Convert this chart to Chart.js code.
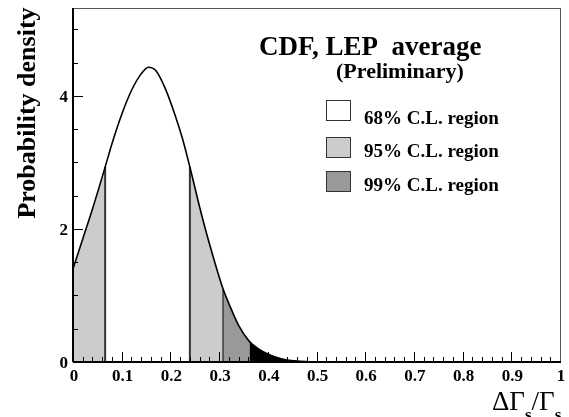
<!DOCTYPE html>
<html>
<head>
<meta charset="utf-8">
<script src="https://cdn.jsdelivr.net/npm/chart.js@4"></script>
<style>
  body { margin: 0; background: #fff; }
  #wrap { width: 569px; height: 417px; }
</style>
</head>
<body>
<div id="wrap"><canvas id="pdfChart" width="569" height="417"></canvas></div>
<script>
// curve (x = dGamma_s/Gamma_s, y = probability density)
const xValues = [0, 0.02, 0.04, 0.066, 0.08, 0.10, 0.12, 0.14, 0.155, 0.17, 0.19, 0.21, 0.225, 0.24,
  0.26, 0.28, 0.308, 0.32, 0.34, 0.362, 0.38, 0.40, 0.42, 0.44, 0.46, 0.48, 0.50, 0.60, 0.80, 1.0];
const density = [1.40, 1.85, 2.30, 2.93, 3.28, 3.72, 4.08, 4.33, 4.43, 4.38, 4.10, 3.70, 3.35, 2.93,
  2.33, 1.78, 1.10, 0.88, 0.55, 0.31, 0.20, 0.12, 0.065, 0.03, 0.013, 0.005, 0, 0, 0, 0];

// confidence regions: [from, to]
const regionFrom = [0, 0.066, 0.240, 0.308, 0.362];
const regionTo = [0.066, 0.240, 0.308, 0.362, 1.0];
const regionFill = ["#cccccc", "#ffffff", "#cccccc", "#999999", "#000000"];

const xTickLabels = ["0", "0.1", "0.2", "0.3", "0.4", "0.5", "0.6", "0.7", "0.8", "0.9", "1"];
const yTickLabels = ["0", "2", "4"];
const legendLabels = ["68% C.L. region", "95% C.L. region", "99% C.L. region"];
const legendFill = ["#ffffff", "#cccccc", "#999999"];

const serif = "'Liberation Serif', 'DejaVu Serif', serif";

function curvePoints(a, b) {
  const pts = [];
  xValues.forEach(function (x, i) {
    if (x >= a - 1e-9 && x <= b + 1e-9) pts.push({ x: x, y: density[i] });
  });
  return pts;
}

function densityAt(x) {
  const i = xValues.indexOf(x);
  return i >= 0 ? density[i] : 0;
}

const datasets = [];
// outline
datasets.push({
  data: curvePoints(0, 1),
  borderColor: "#000",
  borderWidth: 1.6,
  fill: false,
  pointRadius: 0,
  cubicInterpolationMode: "monotone",
});
// edges of the regions
[0.066, 0.240].forEach(function (x) {
  datasets.push({
    data: [{ x: x, y: 0 }, { x: x, y: densityAt(x) }],
    borderColor: "#333",
    borderWidth: 2,
    pointRadius: 0,
    fill: false,
  });
});
[0.308].forEach(function (x) {
  datasets.push({
    data: [{ x: x, y: 0 }, { x: x, y: densityAt(x) }],
    borderColor: "#000",
    borderWidth: 1,
    pointRadius: 0,
    fill: false,
  });
});
// filled regions
regionFrom.forEach(function (a, i) {
  datasets.push({
    data: curvePoints(a, regionTo[i]),
    borderWidth: 0,
    borderColor: "rgba(0,0,0,0)",
    backgroundColor: regionFill[i],
    fill: "origin",
    pointRadius: 0,
    cubicInterpolationMode: "monotone",
  });
});

const framePlugin = {
  id: "frame",
  afterDatasetsDraw(chart) {
    const ctx = chart.ctx;
    const xs = chart.scales.x, ys = chart.scales.y;
    const a = chart.chartArea;
    ctx.save();
    ctx.strokeStyle = "#000";
    ctx.lineWidth = 1;
    // inward ticks
    ctx.beginPath();
    for (let k = 0; k <= 50; k++) {
      const v = k * 0.02;
      const px = Math.round(xs.getPixelForValue(v)) + 0.5;
      const len = k % 5 === 0 ? 10 : 5;
      ctx.moveTo(px, a.bottom);
      ctx.lineTo(px, a.bottom - len);
    }
    for (let k = 0; k <= 10; k++) {
      const v = k * 0.5;
      const py = Math.round(ys.getPixelForValue(v)) + 0.5;
      const len = k % 4 === 0 ? 10 : 5;
      ctx.moveTo(a.left, py);
      ctx.lineTo(a.left + len, py);
    }
    ctx.stroke();
    // frame
    ctx.strokeStyle = "#555";
    ctx.strokeRect(a.left + 0.5, a.top + 0.5, a.right - a.left, a.bottom - a.top);
    ctx.strokeStyle = "#000";
    ctx.lineWidth = 2;
    ctx.beginPath();
    ctx.moveTo(a.left, a.bottom);
    ctx.lineTo(a.right + 1, a.bottom);
    ctx.moveTo(a.left, a.bottom);
    ctx.lineTo(a.left, a.top);
    ctx.stroke();

    // tick labels
    ctx.fillStyle = "#000";
    ctx.font = "bold 17px " + serif;
    ctx.textAlign = "center";
    ctx.textBaseline = "alphabetic";
    xTickLabels.forEach(function (t) {
      ctx.fillText(t, xs.getPixelForValue(parseFloat(t)) + 1, a.bottom + 19);
    });
    ctx.textAlign = "right";
    yTickLabels.forEach(function (t) {
      ctx.fillText(t, a.left - 5, ys.getPixelForValue(parseFloat(t)) + 6);
    });

    // y title
    ctx.save();
    ctx.translate(35, 113);
    ctx.rotate(-Math.PI / 2);
    ctx.textAlign = "center";
    ctx.font = "bold 26px " + serif;
    ctx.fillText("Probability density", 0, 0);
    ctx.restore();

    // x title: ΔΓs/Γs
    ctx.textAlign = "left";
    let x = 492;
    const base = 410;
    const parts = [["ΔΓ", false], ["s", true], ["/Γ", false], ["s", true]];
    parts.forEach(function (p) {
      ctx.font = p[1] ? "bold 17px " + serif : "27px " + serif;
      ctx.fillText(p[0], x, p[1] ? base + 10 : base);
      x += ctx.measureText(p[0]).width;
    });

    // title
    ctx.font = "bold 27px " + serif;
    ctx.fillText("CDF, LEP  average", 259, 55);
    ctx.font = "bold 22px " + serif;
    ctx.fillText("(Preliminary)", 336, 78);

    // legend
    const boxY = [100, 137, 171];
    const textBase = [124, 157, 191];
    legendLabels.forEach(function (lab, i) {
      ctx.fillStyle = legendFill[i];
      ctx.fillRect(326, boxY[i], 24, 20);
      ctx.strokeStyle = "#333";
      ctx.lineWidth = 1;
      ctx.strokeRect(326.5, boxY[i] + 0.5, 24, 20);
      ctx.fillStyle = "#000";
      ctx.font = "bold 19px " + serif;
      ctx.fillText(lab, 364, textBase[i]);
    });
    ctx.restore();
  },
};

new Chart(document.getElementById("pdfChart").getContext("2d"), {
  type: "line",
  data: { datasets: datasets },
  options: {
    responsive: false,
    animation: false,
    events: [],
    layout: { padding: { left: 73, top: 8, right: 9, bottom: 55 } },
    plugins: { legend: { display: false }, tooltip: { enabled: false } },
    scales: {
      x: { type: "linear", min: 0, max: 1, display: false },
      y: { type: "linear", min: 0, max: 5.32, display: false },
    },
  },
  plugins: [framePlugin],
});
</script>
</body>
</html>
